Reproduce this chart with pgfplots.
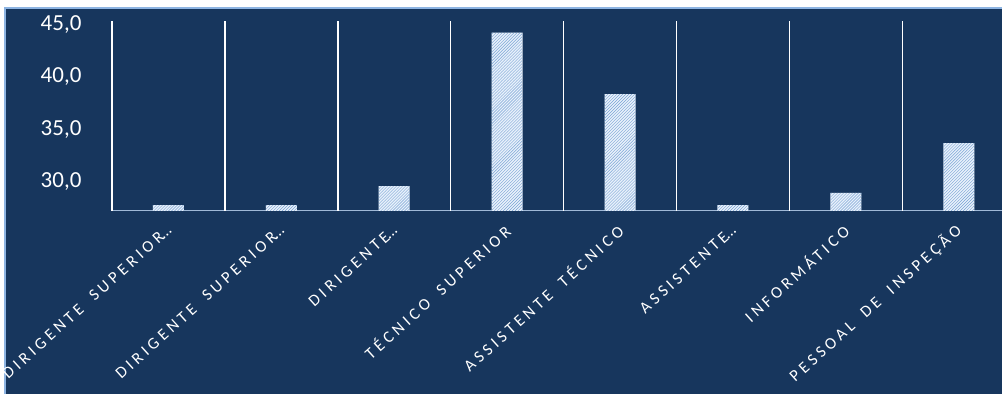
\documentclass[border=0pt]{standalone}
\usepackage{pgfplots}
\pgfplotsset{compat=1.18}
\usepackage{fontspec}
\setmainfont{Carlito}
\newfontfamily\lblfont[LetterSpace=23,WordSpace=1.8]{Carlito}
\newcommand{\trunc}{{\addfontfeature{LetterSpace=0}\kern-0.1em…}}
\usetikzlibrary{patterns}
\definecolor{bg}{RGB}{23,54,93}
\definecolor{border}{RGB}{141,180,226}
\definecolor{barfill}{RGB}{232,241,251}
\definecolor{barpat}{RGB}{120,162,212}
\definecolor{axisline}{RGB}{160,185,215}
\begin{document}
\begin{tikzpicture}[x=1bp,y=1bp]
\fill[white] (0,0) rectangle (1003,394);
\fill[bg] (5,0) rectangle (1003,386);
\draw[border, line width=1.5bp] (5,0) -- (5,386) -- (1003,386);
\useasboundingbox (0,0) rectangle (1003,394);
\begin{axis}[
  at={(112bp,183bp)}, anchor=south west,
  scale only axis, width=891bp, height=190bp,
  xmin=-0.5, xmax=7.385, ymin=27.25, ymax=45.3,
  axis x line*=bottom, axis y line*=left,
  x axis line style={draw=axisline, line width=1bp, -},
  y axis line style={draw=none},
  tick style={draw=none},
  ytick={30,35,40,45},
  yticklabel style={font=\fontsize{23bp}{28bp}\selectfont, text=white, xshift=-27bp,
    /pgf/number format/.cd, fixed, fixed zerofill, precision=1, use comma, assume math mode=true},
  xtick={0,...,7},
  xticklabels={{DIRIGENTE SUPERIOR\trunc},{DIRIGENTE SUPERIOR\trunc},{DIRIGENTE\trunc},{TÉCNICO SUPERIOR},{ASSISTENTE TÉCNICO},{ASSISTENTE\trunc},{INFORMÁTICO},{PESSOAL DE INSPEÇÃO}},
  xticklabel style={font=\lblfont\fontsize{16.5bp}{20bp}\selectfont, text=white, rotate=42, anchor=east, xshift=-5bp, yshift=-10bp},
  extra x ticks={-0.5,0.5,1.5,2.5,3.5,4.5,5.5,6.5},
  extra x tick labels={},
  extra x tick style={grid=major, major grid style={draw=white, line width=1.6bp}},
  ybar, bar width=31bp,
]
\addplot[draw=none, fill=barfill, postaction={pattern=north east lines, pattern color=barpat}] coordinates {
  (0,27.8) (1,27.8) (2,29.6) (3,44.2) (4,38.35) (5,27.8) (6,28.95) (7,33.7)
};
\end{axis}
\end{tikzpicture}
\end{document}
